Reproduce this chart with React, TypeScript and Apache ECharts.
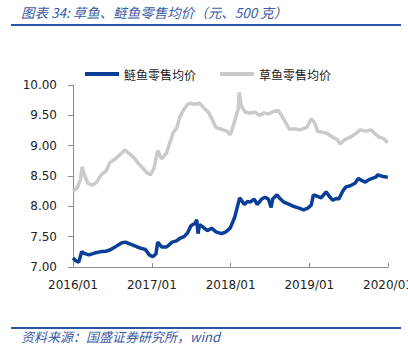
import React, { useEffect, useRef } from "react";
import * as echarts from "echarts";

const titleText = "图表 34: 草鱼、鲢鱼零售均价（元、500 克）";
const sourceText = "资料来源：国盛证券研究所，wind";
const seriesNames = ["鲢鱼零售均价", "草鱼零售均价"];

const silverDates = [
  "2016-01-01", "2016-01-15", "2016-01-28", "2016-02-10", "2016-02-25", "2016-03-15", "2016-04-10", "2016-05-05",
  "2016-06-01", "2016-06-20", "2016-07-10", "2016-07-27", "2016-08-15", "2016-09-01", "2016-09-20", "2016-10-05",
  "2016-10-25", "2016-11-10", "2016-12-01", "2016-12-20", "2017-01-05", "2017-01-20", "2017-01-28", "2017-02-15",
  "2017-03-10", "2017-04-05", "2017-04-25", "2017-05-10", "2017-05-30", "2017-06-15", "2017-07-01", "2017-07-20",
  "2017-07-28", "2017-08-03", "2017-08-10", "2017-08-25", "2017-09-15", "2017-10-05", "2017-10-25", "2017-11-20",
  "2017-12-10", "2017-12-30", "2018-01-20", "2018-02-12", "2018-03-06", "2018-03-20", "2018-04-02", "2018-04-20",
  "2018-05-05", "2018-05-25", "2018-06-10", "2018-06-25", "2018-07-08", "2018-07-15", "2018-08-04", "2018-08-20",
  "2018-09-05", "2018-09-25", "2018-10-20", "2018-11-15", "2018-12-05", "2018-12-25", "2019-01-10", "2019-01-20",
  "2019-02-05", "2019-02-25", "2019-03-20", "2019-04-05", "2019-04-20", "2019-05-05", "2019-05-18", "2019-06-05",
  "2019-06-20", "2019-07-10", "2019-08-01", "2019-08-16", "2019-09-05", "2019-09-18", "2019-10-05", "2019-10-20",
  "2019-11-05", "2019-11-15", "2019-12-10", "2019-12-31",
];
const silverValues = [
  7.15, 7.10, 7.08, 7.25, 7.22, 7.20, 7.23, 7.25,
  7.26, 7.28, 7.32, 7.36, 7.40, 7.41, 7.38, 7.36,
  7.33, 7.31, 7.29, 7.20, 7.17, 7.22, 7.41, 7.33,
  7.33, 7.41, 7.43, 7.47, 7.50, 7.56, 7.68, 7.72,
  7.78, 7.55, 7.70, 7.66, 7.60, 7.64, 7.58, 7.55,
  7.58, 7.64, 7.82, 8.14, 8.03, 8.08, 8.07, 8.12,
  8.03, 8.12, 8.15, 8.12, 7.98, 8.12, 8.19, 8.12,
  8.07, 8.04, 8.00, 7.97, 7.94, 7.97, 8.02, 8.19,
  8.17, 8.14, 8.24, 8.16, 8.10, 8.13, 8.12, 8.25,
  8.32, 8.34, 8.38, 8.46, 8.42, 8.40, 8.44, 8.46,
  8.48, 8.52, 8.49, 8.48,
];

const grassDates = [
  "2016-01-01", "2016-01-20", "2016-02-05", "2016-02-12", "2016-02-25", "2016-03-10", "2016-04-01", "2016-04-20",
  "2016-05-10", "2016-06-01", "2016-06-20", "2016-07-15", "2016-08-05", "2016-08-30", "2016-09-20", "2016-10-10",
  "2016-11-01", "2016-11-20", "2016-12-10", "2016-12-25", "2017-01-10", "2017-01-28", "2017-02-15", "2017-03-10",
  "2017-03-25", "2017-04-10", "2017-04-25", "2017-05-10", "2017-05-30", "2017-06-15", "2017-07-01", "2017-07-20",
  "2017-08-10", "2017-08-30", "2017-09-20", "2017-10-05", "2017-10-25", "2017-11-20", "2017-12-15", "2017-12-30",
  "2018-01-15", "2018-02-05", "2018-02-10", "2018-02-20", "2018-03-10", "2018-04-01", "2018-04-25", "2018-05-15",
  "2018-06-05", "2018-06-25", "2018-07-15", "2018-08-10", "2018-08-25", "2018-09-10", "2018-10-01", "2018-10-25",
  "2018-11-20", "2018-12-20", "2019-01-10", "2019-01-25", "2019-02-10", "2019-03-05", "2019-03-25", "2019-04-20",
  "2019-05-10", "2019-05-25", "2019-06-15", "2019-07-10", "2019-08-05", "2019-08-25", "2019-09-20", "2019-10-15",
  "2019-11-01", "2019-11-20", "2019-12-10", "2019-12-31",
];
const grassValues = [
  8.25, 8.30, 8.45, 8.65, 8.50, 8.38, 8.35, 8.40,
  8.52, 8.58, 8.72, 8.78, 8.85, 8.93, 8.86, 8.80,
  8.70, 8.63, 8.55, 8.52, 8.62, 8.92, 8.78, 8.88,
  9.05, 9.22, 9.28, 9.47, 9.60, 9.68, 9.70, 9.68,
  9.70, 9.62, 9.55, 9.45, 9.30, 9.27, 9.24, 9.18,
  9.35, 9.60, 9.88, 9.65, 9.55, 9.54, 9.55, 9.50,
  9.54, 9.52, 9.56, 9.58, 9.50, 9.40, 9.27, 9.28,
  9.26, 9.30, 9.44, 9.38, 9.23, 9.22, 9.20, 9.14,
  9.10, 9.03, 9.10, 9.14, 9.20, 9.26, 9.24, 9.26,
  9.20, 9.14, 9.12, 9.05,
];

const xMin = "2016-01-01";
const xMax = "2020-01-01";

export default function App() {
  const ref = useRef<HTMLDivElement>(null);
  useEffect(() => {
    if (!ref.current) return;
    const chart = echarts.init(ref.current, null, { renderer: "svg" });
    const blue = "#0a3f98";
    const gray = "#cacaca";
    const textBlue = "#3a5ba6";
    const year = 365.25 * 24 * 3600 * 1000;
    chart.setOption({
      animation: false,
      backgroundColor: "#ffffff",
      textStyle: { fontFamily: "DejaVu Sans" },
      grid: {
        left: 73,
        right: 20,
        top: 85,
        bottom: 86,
        containLabel: false,
        outerBoundsMode: "none",
      },
      legend: {
        data: seriesNames,
        left: 80,
        top: 63,
        itemWidth: 34,
        itemHeight: 4,
        itemGap: 24,
        icon: "rect",
        textStyle: { fontSize: 12, color: "#222", fontFamily: "Noto Sans CJK SC" },
      },
      xAxis: {
        type: "time",
        min: xMin,
        max: xMax,
        minInterval: year * 0.99,
        maxInterval: year * 1.01,
        axisLine: { lineStyle: { color: "#8c8c8c", width: 1 } },
        axisTick: { show: true, inside: true, length: 4, lineStyle: { color: "#8c8c8c" } },
        splitLine: { show: false },
        axisLabel: {
          fontSize: 12,
          color: "#222",
          margin: 12,
          showMinLabel: true,
          showMaxLabel: true,
          hideOverlap: false,
          formatter: (v: number) => {
            const d = new Date(v);
            const m = d.getMonth() + 1;
            return `${d.getFullYear()}/${m < 10 ? "0" + m : m}`;
          },
        },
      },
      yAxis: {
        type: "value",
        min: 7,
        max: 10,
        interval: 0.5,
        axisLine: { show: true, lineStyle: { color: "#8c8c8c", width: 1 } },
        axisTick: { show: true, inside: false, length: 5, lineStyle: { color: "#8c8c8c" } },
        splitLine: { show: false },
        axisLabel: {
          fontSize: 12,
          color: "#222",
          margin: 16,
          formatter: (v: number) => v.toFixed(2),
        },
      },
      series: [
        {
          name: seriesNames[0],
          type: "line",
          data: silverDates.map((d, i) => [d, silverValues[i]]),
          showSymbol: false,
          lineStyle: { color: blue, width: 3.5 },
          itemStyle: { color: blue },
          z: 3,
        },
        {
          name: seriesNames[1],
          type: "line",
          data: grassDates.map((d, i) => [d, grassValues[i]]),
          showSymbol: false,
          lineStyle: { color: gray, width: 3.5 },
          itemStyle: { color: gray },
          z: 2,
        },
      ],
      graphic: [
        {
          type: "text",
          left: 21,
          top: 5,
          style: {
            text: titleText,
            fontSize: 13.5,
            fontStyle: "italic",
            fontFamily: "Noto Sans CJK SC",
            fill: textBlue,
          },
        },
        {
          type: "line",
          shape: { x1: 11, y1: 25, x2: 401, y2: 25 },
          style: { stroke: "#2a55a8", lineWidth: 2 },
        },
        {
          type: "line",
          shape: { x1: 11, y1: 328, x2: 401, y2: 328 },
          style: { stroke: "#2a55a8", lineWidth: 2 },
        },
        {
          type: "text",
          left: 21,
          top: 330,
          style: {
            text: sourceText,
            fontSize: 13,
            fontStyle: "italic",
            fontFamily: "Noto Sans CJK SC",
            fill: textBlue,
          },
        },
      ],
    });
    return () => chart.dispose();
  }, []);
  return (
    <div
      ref={ref}
      style={{ position: "fixed", left: 0, top: 0, width: 408, height: 353 }}
    />
  );
}
